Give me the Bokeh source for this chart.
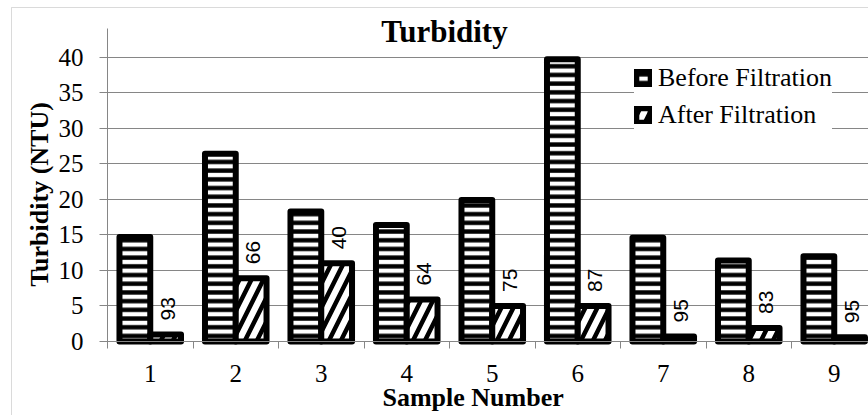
import math
from bokeh.plotting import figure
from bokeh.models import (ColumnDataSource, FixedTicker, Label, Legend, LegendItem,
                          BoxAnnotation, LinearAxis)
from bokeh.transform import dodge
from bokeh.core.properties import value
from bokeh.embed import file_html
from bokeh.resources import INLINE

# ---- data ----
samples = [1, 2, 3, 4, 5, 6, 7, 8, 9]
sample_labels = ["1", "2", "3", "4", "5", "6", "7", "8", "9"]
before = [14.7, 26.4, 18.3, 16.4, 19.9, 39.7, 14.6, 11.4, 12.0]
after = [1.0, 8.9, 11.0, 5.9, 5.0, 5.0, 0.7, 1.9, 0.6]
removal = [93, 66, 40, 64, 75, 87, 95, 83, 95]
y_ticks = [0, 5, 10, 15, 20, 25, 30, 35, 40]

GRAY = "#868686"
W, H = 868, 415
AX_X, AX_Y = 107, 341          # pixel position of the axes origin
PX_PER_CAT = 85.5
PX_PER_UNIT = 7.108

def dx(px):
    return 0.5 + (px - AX_X) / PX_PER_CAT

def dy(py):
    return (AX_Y - py) / PX_PER_UNIT

p = figure(width=W, height=H, x_range=(dx(0), dx(W)), y_range=(dy(H), dy(0)),
           output_backend="svg", toolbar_location=None,
           min_border=0, min_border_left=0, min_border_right=0, min_border_top=0,
           min_border_bottom=0, outline_line_color=None,
           background_fill_color="white", border_fill_color="white",
           x_axis_location=None, y_axis_location=None)
p.xgrid.visible = False
p.ygrid.visible = False

xaxis = LinearAxis(fixed_location=0, bounds=(0.5, dx(W)))
yaxis = LinearAxis(fixed_location=0.5, bounds=(0, dy(28)))
p.add_layout(xaxis, "below")
p.add_layout(yaxis, "left")

# chart border (left and top edges visible)
p.add_layout(BoxAnnotation(left=dx(11), top=dy(7), right=dx(W + 40), bottom=dy(H + 40),
                           fill_color=None, fill_alpha=0, line_color=GRAY, line_width=1,
                           level="underlay"))

src = ColumnDataSource(dict(x=samples, before=before, after=after,
                            lab=[str(r) for r in removal]))

rb = p.vbar(x=dodge('x', -0.18, range=p.x_range), top='before', width=0.36, source=src,
            fill_color='white', hatch_pattern='horizontal_line', hatch_color='black',
            hatch_scale=8.7, hatch_weight=4.4, line_color='black', line_width=6,
            line_join='round')
ra = p.vbar(x=dodge('x', 0.18, range=p.x_range), top='after', width=0.36, source=src,
            fill_color='white', hatch_pattern='right_diagonal_line', hatch_color='black',
            hatch_scale=24, hatch_weight=4.5, line_color='black', line_width=6,
            line_join='round')

p.text(x=dodge('x', 0.18, range=p.x_range), y='after', text='lab', source=src,
       angle=math.pi / 2, text_align='left', text_baseline='middle',
       x_offset=2, y_offset=-14, text_font=value("Liberation Sans"),
       text_font_size='21px', text_color='black')

# x axis: labels at sample centres, tick marks at category boundaries
xaxis.ticker = FixedTicker(ticks=samples, minor_ticks=[s - 0.5 for s in samples] + [9.5])
xaxis.major_label_overrides = {s: l for s, l in zip(samples, sample_labels)}
xaxis.major_tick_line_color = None
xaxis.minor_tick_line_color = GRAY
xaxis.minor_tick_out = 7
xaxis.minor_tick_in = 0
xaxis.axis_line_color = GRAY
xaxis.major_label_text_font = "Liberation Serif"
xaxis.major_label_text_font_size = "25px"
xaxis.major_label_text_color = "black"
xaxis.major_label_standoff = 16

# y axis: ticks extend across the plot area as gridlines
yaxis.ticker = FixedTicker(ticks=y_ticks)
yaxis.major_tick_line_color = GRAY
yaxis.major_tick_out = 8
yaxis.major_tick_in = W - AX_X
yaxis.minor_tick_line_color = None
yaxis.axis_line_color = GRAY
yaxis.major_label_text_font = "Liberation Serif"
yaxis.major_label_text_font_size = "25px"
yaxis.major_label_text_color = "black"
yaxis.major_label_standoff = 16
yaxis.level = "underlay"

# legend
legend = Legend(items=[LegendItem(label="Before Filtration", renderers=[rb]),
                       LegendItem(label="After Filtration", renderers=[ra])],
                location=(634, H - 130), background_fill_color="white",
                background_fill_alpha=1, border_line_color=None,
                label_text_font="Liberation Serif", label_text_font_size="26px",
                label_text_color="black", glyph_width=18, glyph_height=18,
                label_standoff=6, spacing=7, padding=6, margin=0, label_height=30)
p.add_layout(legend)

p.add_layout(Label(x=dx(444), y=dy(30.5), text="Turbidity", text_align='center',
                   text_baseline='middle', text_font="Liberation Serif",
                   text_font_style='bold', text_font_size='31px', text_color='black'))
p.add_layout(Label(x=dx(382), y=dy(397), text="Sample Number", text_align='left',
                   text_baseline='middle', text_font="Liberation Serif",
                   text_font_style='bold', text_font_size='26px', text_color='black'))
p.add_layout(Label(x=dx(38.5), y=dy(194), text="Turbidity (NTU)", angle=math.pi / 2,
                   text_align='center', text_baseline='middle',
                   text_font="Liberation Serif", text_font_style='bold',
                   text_font_size='26px', text_color='black'))

open("out.html", "w").write(file_html(p, INLINE))
